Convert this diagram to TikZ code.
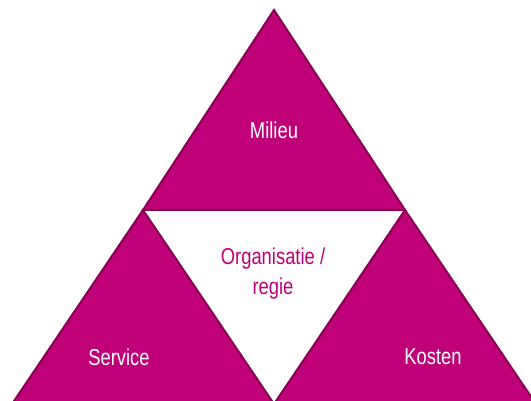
\documentclass[tikz,border=0pt]{standalone}
\usepackage{fontspec}
\setmainfont[FakeStretch=0.8]{Liberation Sans}
\usepackage{tikz}

\definecolor{magenta}{RGB}{192,0,120}
\definecolor{darkmagenta}{RGB}{135,0,82}

\tikzset{
    part/.style={fill=magenta, draw=darkmagenta, line width=2pt, line join=miter},
    label/.style={text=white, font=\fontsize{23}{30}\selectfont, align=center, inner sep=0pt}
}

\begin{document}
\begin{tikzpicture}[x=1pt, y=-1pt]
        \useasboundingbox (0, 0) rectangle (531, 401);
        \clip (0, 0) rectangle (531, 401);

        \coordinate (T) at (274, 10);
        \coordinate (L) at (143, 210);
        \coordinate (R) at (405, 210);
        \coordinate (BL) at (12, 404);
        \coordinate (BM) at (274, 404);
        \coordinate (BR) at (536, 404);

        \draw [part] (T) -- (L) -- (R) -- cycle;
        \draw [part] (L) -- (BL) -- (BM) -- cycle;
        \draw [part] (R) -- (BM) -- (BR) -- cycle;

        \node [label] (milieu) at (274, 130) {Milieu};
        \node [label] (service) at (119, 357) {Service};
        \node [label] (kosten) at (433, 357) {Kosten};
        \node [label, text=magenta] (regie) at (273, 274) {Organisatie /\\regie};
    \end{tikzpicture}
\end{document}
